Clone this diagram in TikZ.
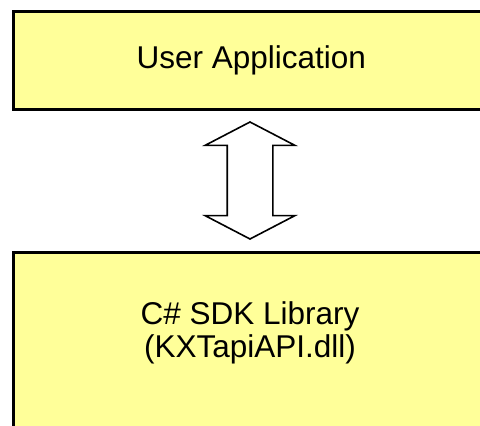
\documentclass[tikz,border=0pt]{standalone}
\usepackage{fontspec}
\setmainfont{Liberation Sans}
\usepackage{tikz}
\usetikzlibrary{shapes.arrows,positioning}

\definecolor{boxyellow}{HTML}{FFFF99}

\begin{document}
\begin{tikzpicture}[x=1pt,y=-1pt]
		\useasboundingbox (0,0) rectangle (480,426);
		\clip (0,0) rectangle (480,426);

		\begin{scope}[every node/.style={font=\fontsize{31.5}{33}\selectfont,align=center}]
			\node (app) [draw,line width=2.7pt,fill=boxyellow,anchor=north west,
				minimum width=476pt,minimum height=98pt] at (12,10) {User Application};
			\node (lib) [draw,line width=2.7pt,fill=boxyellow,anchor=north west,
				minimum width=476pt,minimum height=200pt] at (12,251) {};
			\node (libname) at (250,333) {C\# SDK Library\\(KXTapiAPI.dll)};
		\end{scope}

		% two-way link between the layers
		\node (link) [double arrow,draw,line width=1.6pt,fill=white,rotate=90,
			inner xsep=0pt,inner ysep=22pt,minimum height=117pt,
			double arrow head extend=22pt,double arrow tip angle=125] at (250,180.5) {};
	\end{tikzpicture}
\end{document}
